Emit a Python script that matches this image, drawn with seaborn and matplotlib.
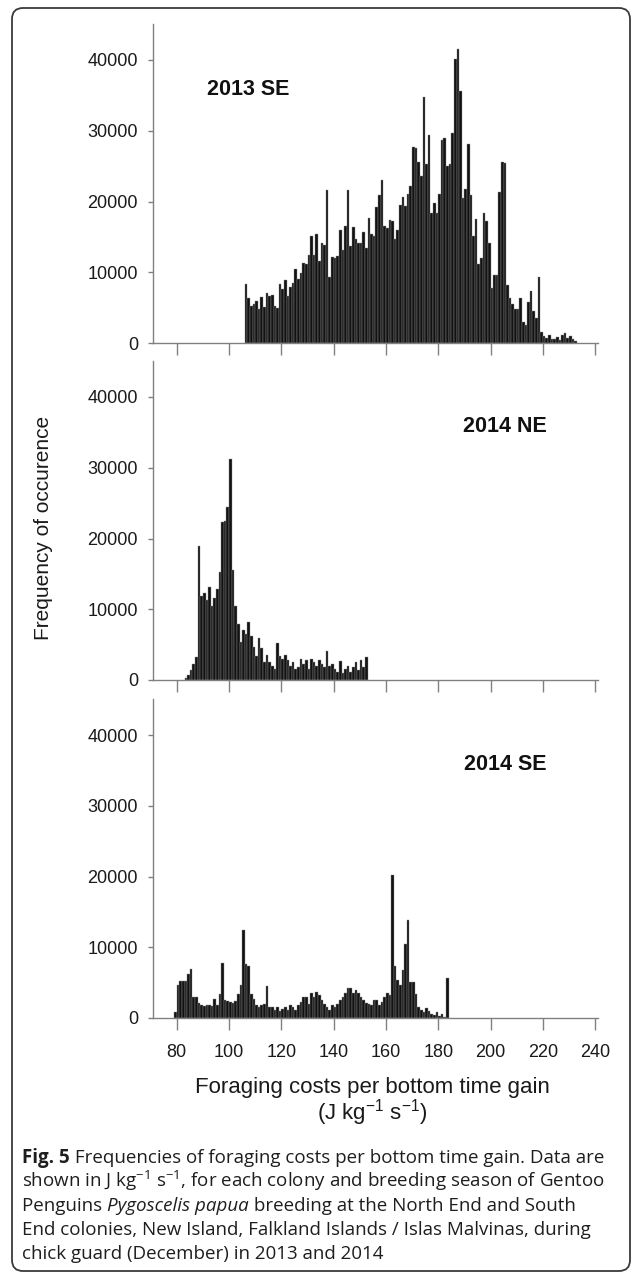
import numpy as np
import pandas as pd
import matplotlib
matplotlib.use("Agg")
import matplotlib.pyplot as plt
import seaborn as sns
from matplotlib.patches import FancyBboxPatch
from matplotlib.transforms import IdentityTransform

# ---------------- data (bin width 1 J kg-1 s-1) ----------------
se2013_start = 106
se2013_counts = [8400, 6300, 5160, 5450, 5960, 4790, 6570, 5020, 7000, 6670,
                 6850, 5260, 4880, 8310, 7600, 8870, 6670, 7980, 8540, 10420,
                 9110, 9950, 11270, 11170, 12490, 15070, 12490, 15450, 11550, 14180,
                 13800, 21690, 9340, 12160, 12070, 12300, 15960, 13150, 16530, 21690,
                 13710, 16430,
                 14740, 14080, 14180, 15680, 13470, 17700, 15450, 15120, 19250, 20850,
                 23000, 16530, 16240, 17320, 17280, 14650, 15960, 19440, 20660, 19340,
                 20990, 22250, 27700, 27510, 25540, 23660, 34740, 25300, 29340, 18400,
                 19810, 18400, 21130, 28640, 29020, 25070, 25350, 29670, 40140, 41500,
                 35680, 20520, 21780, 28170,
                 20850, 15120, 17560, 11130, 12020, 18400, 17280, 14180, 7840, 9620,
                 9580, 21410, 25540, 25450, 8220, 6290, 5450, 4790, 4790, 6290,
                 3000, 2500, 5730, 7370, 4550, 3470, 9390, 1500,
                 1000, 700, 1200, 600, 500, 900, 400, 1100, 1400, 700, 1000, 500, 300]

ne2014_start = 83
ne2014_counts = [300, 700, 1400, 2300, 3200,
                 18870, 11820, 12250, 11300, 13100, 10500, 11580, 12860, 15220, 22320,
                 22460, 24440, 31300, 15560, 10500, 7900, 5440, 7040, 6480, 8130,
                 6150, 4680, 3400, 5910, 4590,
                 2500, 3500, 2600, 2000, 1500, 5300, 3400, 3000, 3500, 2800,
                 2000, 2500, 1500, 1800, 3000, 2200, 2800, 1500, 3000, 2500,
                 2000, 2800, 2300, 1800, 4100, 2000, 2200, 1500, 1200, 2700,
                 1000, 1500, 2000, 1200, 1800, 2500, 1400, 2800, 1800, 3300]

se2014_start = 79
se2014_counts = [800, 4700, 5200, 5200, 5300, 6150, 6900, 3030, 2930, 2170,
                 1800, 1700, 1900, 1800, 1700, 2700, 1800, 3400, 7800, 2550,
                 2360, 2220, 2170, 2460, 3400, 4730, 12390, 7570, 7330, 3400,
                 2700,
                 1800, 1500, 1800, 2000, 4500, 1500, 1500, 1200, 1500, 1000,
                 1300, 1600, 1200, 1800, 1500, 1200, 1800, 2200, 2900, 3000,
                 2000, 3600, 3000, 3700, 3200, 2600, 2000, 1500, 1200, 1800,
                 1500, 2000, 2500, 3000, 3500, 4200, 4300, 3600, 4000, 3500,
                 3000, 2500, 2100, 2000, 1800, 2500, 2600, 1800, 2200, 3000,
                 3600, 3200,
                 20200, 7300, 5400, 4600, 6800, 10500, 13800, 5100, 5100, 3400,
                 1500, 1200, 800, 1400, 1000, 600, 400, 800, 300, 600, 200, 5600]

panel_labels = ["2013 SE", "2014 NE", "2014 SE"]
x_ticks = [80, 100, 120, 140, 160, 180, 200, 220, 240]
y_ticks = [0, 10000, 20000, 30000, 40000]
y_title = "Frequency of occurence"
x_title_1 = "Foraging costs per bottom time gain"
x_title_2 = r"(J kg$\mathregular{^{-1}}$ s$\mathregular{^{-1}}$)"

# ---------------- style ----------------
sns.set_theme(style="white")
plt.rcParams['font.family'] = ['Liberation Sans', 'DejaVu Sans']
plt.rcParams['axes.unicode_minus'] = True

W, H = 637, 1276
fig = plt.figure(figsize=(W / 100, H / 100), dpi=100)

xmin, xmax = 70.8, 241.0
ppu = 2.615
left_px = 152.7
right_px = left_px + (xmax - xmin) * ppu
ymax = 45100
ypx = 283.0 / 40000
bottoms = [343, 680, 1018]
spine_col = "#808080"

series = [(se2013_start, se2013_counts), (ne2014_start, ne2014_counts),
          (se2014_start, se2014_counts)]

axes = []
for i, (start, counts) in enumerate(series):
    b = bottoms[i]
    top = b - ymax * ypx
    ax = fig.add_axes([left_px / W, 1 - b / H, (right_px - left_px) / W, (b - top) / H])
    df = pd.DataFrame({"cost": start + np.arange(len(counts)) + 0.5, "n": counts})
    sns.histplot(data=df, x="cost", weights="n", binwidth=1,
                 binrange=(start, start + len(counts)), ax=ax,
                 color="#121212", edgecolor="#8c8c8c", linewidth=0.3, alpha=1)
    ax.set_xlim(xmin, xmax)
    ax.set_ylim(0, ymax)
    ax.set_xticks(x_ticks)
    ax.set_yticks(y_ticks)
    ax.set_yticklabels([str(v) for v in y_ticks])
    if i < 2:
        ax.set_xticklabels([])
    else:
        ax.set_xticklabels([str(v) for v in x_ticks])
    ax.set_xlabel("")
    ax.set_ylabel("")
    sns.despine(ax=ax)
    for s in ["left", "bottom"]:
        ax.spines[s].set_color(spine_col)
        ax.spines[s].set_linewidth(1.0)
    ax.tick_params(axis="x", direction="out", length=8.6, width=1.0, color=spine_col,
                   pad=10, labelsize=13, labelcolor="#1a1a1a", bottom=True)
    ax.tick_params(axis="y", direction="out", length=3.6, width=1.0, color=spine_col,
                   pad=7, labelsize=13, labelcolor="#1a1a1a", left=True)
    if i == 0:
        ax.text(91.5, 35900, panel_labels[i], fontsize=15.5, fontweight="bold",
                ha="left", va="center", color="#111111")
    else:
        ax.text(221.5, 35900, panel_labels[i], fontsize=15.5, fontweight="bold",
                ha="right", va="center", color="#111111")
    axes.append(ax)

# axis titles
fig.text(44 / W, 1 - 528 / H, y_title, rotation=90, ha="center", va="center",
         fontsize=15, color="#1a1a1a")
fig.text(372 / W, 1 - 1088 / H, x_title_1, ha="center", va="center",
         fontsize=16, color="#1a1a1a")
fig.text(372 / W, 1 - 1113 / H, x_title_2, ha="center", va="center",
         fontsize=16, color="#1a1a1a")

# rounded frame
frame = FancyBboxPatch((12, 5), 618, 1263,
                       boxstyle="round,pad=0,rounding_size=11",
                       transform=IdentityTransform(), fill=False,
                       ec="#3a3a3a", lw=1.3)
fig.add_artist(frame)

# caption with mixed styles
cap_family = ['Open Sans', 'DejaVu Sans']
cap_size = 13.5
cap_col = "#1e1e1e"
caption_lines = [
    [("Fig. 5", "bold", "normal"),
     (" Frequencies of foraging costs per bottom time gain. Data are", "normal", "normal")],
    [(r"shown in J kg$\mathregular{^{-1}}$ s$\mathregular{^{-1}}$, for each colony and breeding season of Gentoo",
      "normal", "normal")],
    [("Penguins ", "normal", "normal"), ("Pygoscelis papua", "normal", "italic"),
     (" breeding at the North End and South", "normal", "normal")],
    [("End colonies, New Island, Falkland Islands / Islas Malvinas, during", "normal", "normal")],
    [("chick guard (December) in 2013 and 2014", "normal", "normal")],
]
baselines = [1163, 1187, 1211, 1235, 1259]

fig.canvas.draw()
renderer = fig.canvas.get_renderer()
for line, yb in zip(caption_lines, baselines):
    x = 22.0
    for txt, wt, st in line:
        t = fig.text(x / W, 1 - yb / H, txt, fontsize=cap_size, fontweight=wt,
                     fontstyle=st, family=cap_family, ha="left", va="baseline",
                     color=cap_col)
        bb = t.get_window_extent(renderer)
        x += bb.width

fig.savefig("out.png", dpi=100)
